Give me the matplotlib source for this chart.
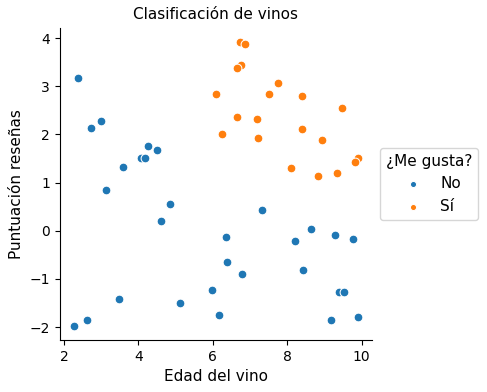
import matplotlib
matplotlib.use("Agg")
import matplotlib.pyplot as plt

# edad del vino / puntuacion, clase "No"
edad_no = [2.38, 2.72, 2.99, 3.14, 3.58, 4.08, 4.17, 4.26, 4.51, 4.61, 4.86,
           3.49, 2.27, 2.61, 5.12, 5.97, 6.17, 7.31, 6.35, 6.39, 6.79,
           8.64, 8.22, 8.43, 9.28, 9.77, 9.38, 9.53, 9.17, 9.90]
punt_no = [3.18, 2.13, 2.27, 0.84, 1.33, 1.51, 1.51, 1.76, 1.67, 0.20, 0.56,
           -1.42, -1.97, -1.85, -1.49, -1.22, -1.74, 0.43, -0.12, -0.65, -0.89,
           0.03, -0.21, -0.82, -0.08, -0.18, -1.27, -1.27, -1.85, -1.80]

# clase "Sí"
edad_si = [6.74, 6.86, 6.75, 6.64, 7.74, 6.09, 7.51, 8.41, 9.48, 6.64,
           7.18, 6.24, 7.22, 8.41, 8.94, 9.89, 9.81, 8.11, 8.84, 9.33]
punt_si = [3.92, 3.87, 3.45, 3.38, 3.07, 2.84, 2.85, 2.79, 2.55, 2.37,
           2.33, 2.01, 1.92, 2.11, 1.88, 1.52, 1.42, 1.30, 1.14, 1.19]

clases = ["No", "Sí"]
colores = ["#1f77b4", "#ff7f0e"]

fig = plt.figure(figsize=(4.87, 3.92), dpi=100)
ax = fig.add_axes([0.123, 0.133, 0.641, 0.796])

for xs, ys, lab, c in [(edad_no, punt_no, clases[0], colores[0]),
                       (edad_si, punt_si, clases[1], colores[1])]:
    ax.scatter(xs, ys, s=40, color=c, edgecolor="white", linewidth=0.75, label=lab)

ax.spines["top"].set_visible(False)
ax.spines["right"].set_visible(False)
ax.set_xticks([2, 4, 6, 8, 10])
ax.set_yticks([-2, -1, 0, 1, 2, 3, 4])
ax.set_xlabel("Edad del vino", fontsize=11)
ax.set_ylabel("Puntuación reseñas", fontsize=11)
ax.set_title("Clasificación de vinos", fontsize=11)

leg = ax.legend(title="¿Me gusta?", loc="center left", bbox_to_anchor=(1.0, 0.5),
                fontsize=11, title_fontsize=11, markerscale=0.7)

fig.savefig("out.png", dpi=100)
